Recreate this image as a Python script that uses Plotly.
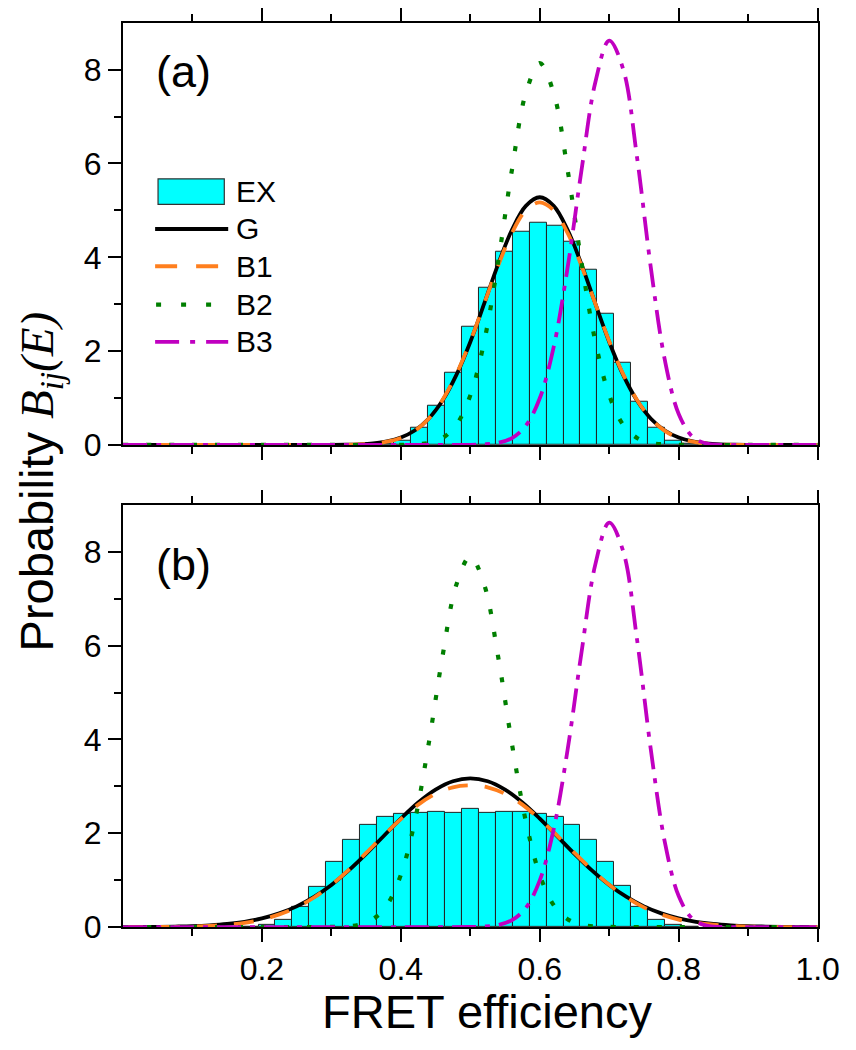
import plotly.graph_objects as go

# ---------------- data ----------------
# histogram bin centres (41 bins on [0,1]) and heights
ex_a_x = [0.37805, 0.40244, 0.42683, 0.45122, 0.47561, 0.50000, 0.52439, 0.54878,
          0.57317, 0.59756, 0.62195, 0.64634, 0.67073, 0.69512, 0.71951, 0.74390,
          0.76829, 0.79268, 0.81707]
ex_a_y = [0.02, 0.10, 0.37, 0.84, 1.54, 2.53, 3.35, 4.11, 4.55, 4.73, 4.67, 4.33,
          3.74, 2.79, 1.76, 0.93, 0.37, 0.10, 0.03]

ex_b_x = [0.18293, 0.20732, 0.23171, 0.25610, 0.28049, 0.30488, 0.32927, 0.35366,
          0.37805, 0.40244, 0.42683, 0.45122, 0.47561, 0.50000, 0.52439, 0.54878,
          0.57317, 0.59756, 0.62195, 0.64634, 0.67073, 0.69512, 0.71951, 0.74390,
          0.76829, 0.79268, 0.81707]
ex_b_y = [0.01, 0.05, 0.15, 0.43, 0.86, 1.38, 1.85, 2.17, 2.34, 2.41, 2.44, 2.46,
          2.43, 2.51, 2.43, 2.45, 2.45, 2.41, 2.35, 2.17, 1.85, 1.38, 0.87, 0.44,
          0.15, 0.04, 0.01]

# panel (a) curves
ga_x = [0.0, 0.1, 0.2, 0.30, 0.32, 0.34, 0.36, 0.38, 0.40, 0.42, 0.44, 0.46, 0.48,
        0.50, 0.52, 0.54, 0.56, 0.58, 0.60, 0.62, 0.64, 0.66, 0.68, 0.70, 0.72,
        0.74, 0.76, 0.78, 0.80, 0.82, 0.84, 0.86, 0.88, 0.90, 1.0]
ga_G = [0, 0, 0, 0.002, 0.005, 0.014, 0.034, 0.076, 0.158, 0.308, 0.559, 0.946,
        1.493, 2.196, 3.012, 3.850, 4.588, 5.098, 5.28, 5.098, 4.588, 3.850, 3.012,
        2.196, 1.493, 0.946, 0.559, 0.308, 0.158, 0.076, 0.034, 0.014, 0.005, 0.002, 0]
ga_B1 = [0, 0, 0, 0.001, 0.004, 0.012, 0.03, 0.07, 0.15, 0.30, 0.56, 0.96, 1.51,
         2.21, 3.01, 3.82, 4.52, 5.00, 5.17, 5.00, 4.52, 3.82, 3.01, 2.21, 1.51,
         0.96, 0.56, 0.30, 0.15, 0.07, 0.03, 0.012, 0.004, 0.001, 0]
b2a_x = [0.0, 0.1, 0.2, 0.3, 0.40, 0.42, 0.44, 0.46, 0.48, 0.50, 0.52, 0.54, 0.56,
         0.58, 0.60, 0.62, 0.64, 0.66, 0.68, 0.70, 0.72, 0.74, 0.76, 0.78, 0.80,
         0.9, 1.0]
b2a_y = [0, 0, 0, 0, 0.002, 0.011, 0.044, 0.149, 0.431, 1.057, 2.205, 3.90, 5.87,
         7.50, 8.14, 7.50, 5.87, 3.90, 2.205, 1.057, 0.431, 0.149, 0.044, 0.011,
         0.002, 0, 0]
b3_x = [0.0, 0.1, 0.2, 0.3, 0.4, 0.50, 0.52, 0.54, 0.56, 0.58, 0.60, 0.62, 0.64,
        0.66, 0.68, 0.70, 0.72, 0.74, 0.76, 0.78, 0.80, 0.82, 0.84, 0.86, 0.9, 1.0]
b3a_y = [0, 0, 0, 0, 0, 0.003, 0.012, 0.045, 0.147, 0.411, 0.995, 2.086, 3.774,
         5.849, 7.731, 8.62, 8.015, 6.130, 3.767, 1.813, 0.661, 0.173, 0.031, 0.003,
         0, 0]

# panel (b) curves
gb_x = [0.0, 0.025, 0.05, 0.075, 0.1, 0.125, 0.15, 0.175, 0.2, 0.225, 0.25, 0.275,
        0.3, 0.325, 0.35, 0.375, 0.4, 0.425, 0.45, 0.475, 0.5, 0.525, 0.55, 0.575,
        0.6, 0.625, 0.65, 0.675, 0.7, 0.725, 0.75, 0.775, 0.8, 0.825, 0.85, 0.875,
        0.9, 0.925, 0.95, 0.975, 1.0]
gb_G = [0.001, 0.003, 0.005, 0.011, 0.020, 0.038, 0.067, 0.113, 0.185, 0.292, 0.441,
        0.642, 0.897, 1.207, 1.559, 1.937, 2.312, 2.655, 2.930, 3.108, 3.17, 3.108,
        2.930, 2.655, 2.312, 1.937, 1.559, 1.207, 0.897, 0.642, 0.441, 0.292, 0.185,
        0.113, 0.067, 0.038, 0.020, 0.011, 0.005, 0.003, 0.001]
gb_B1 = [0, 0, 0.001, 0.004, 0.011, 0.025, 0.05, 0.09, 0.16, 0.27, 0.42, 0.63, 0.90,
         1.22, 1.58, 1.95, 2.30, 2.61, 2.84, 2.98, 3.02, 2.98, 2.84, 2.61, 2.30, 1.95,
         1.58, 1.22, 0.90, 0.63, 0.42, 0.27, 0.16, 0.09, 0.05, 0.025, 0.011, 0.004,
         0.001, 0, 0]
b2b_x = [0.0, 0.1, 0.2, 0.30, 0.32, 0.34, 0.36, 0.38, 0.40, 0.42, 0.44, 0.46, 0.48,
         0.50, 0.52, 0.54, 0.56, 0.58, 0.60, 0.62, 0.64, 0.66, 0.68, 0.70, 0.8, 0.9, 1.0]
b2b_y = [0, 0, 0, 0.003, 0.014, 0.052, 0.169, 0.469, 1.112, 2.252, 3.90, 5.77, 7.30,
         7.9, 7.30, 5.77, 3.90, 2.252, 1.112, 0.469, 0.169, 0.052, 0.014, 0.003, 0, 0, 0]
b3b_y = [0, 0, 0, 0, 0, 0.003, 0.012, 0.045, 0.147, 0.411, 0.995, 2.086, 3.774,
         5.849, 7.731, 8.62, 8.015, 6.130, 3.767, 1.813, 0.661, 0.173, 0.031, 0.003,
         0, 0]

x_ticks = [0.2, 0.4, 0.6, 0.8, 1.0]
x_ticktext = ["0.2", "0.4", "0.6", "0.8", "1.0"]
x_minor = [0.1, 0.3, 0.5, 0.7, 0.9]
y_ticks = [0, 2, 4, 6, 8]
y_minor = [1, 3, 5, 7]

# ---------------- styles ----------------
W, H = 856, 1050
SANS = "Liberation Sans, Arial, sans-serif"
CYAN = "#00FFFF"
ORANGE = "#FF7F1E"
GREEN = "#007F00"
MAGENTA = "#C000C0"
LW = 3.8
DASH_B1 = "20px,17px"
DASH_B2 = "5px,18px"
DASH_B3 = "24px,9px,5px,9px"
TICKFONT = dict(family=SANS, size=32, color="black")


def px_x(p):
    return p / W


def px_y(p):
    return 1 - p / H


fig = go.Figure()

for ex_x, ex_y, g_x, g_y, b1_y, b2_x, b2_y, b3_y, ax in [
    (ex_a_x, ex_a_y, ga_x, ga_G, ga_B1, b2a_x, b2a_y, b3a_y, ("x", "y")),
    (ex_b_x, ex_b_y, gb_x, gb_G, gb_B1, b2b_x, b2b_y, b3b_y, ("x2", "y2")),
]:
    fig.add_trace(go.Bar(x=ex_x, y=ex_y, width=1 / 41, xaxis=ax[0], yaxis=ax[1],
                         marker=dict(color=CYAN, line=dict(color="#222222", width=1)),
                         showlegend=False))
    fig.add_trace(go.Scatter(x=g_x, y=g_y, mode="lines", xaxis=ax[0], yaxis=ax[1],
                             line=dict(color="black", width=LW, shape="spline"),
                             showlegend=False))
    fig.add_trace(go.Scatter(x=g_x, y=b1_y, mode="lines", xaxis=ax[0], yaxis=ax[1],
                             line=dict(color=ORANGE, width=LW, dash=DASH_B1, shape="spline"),
                             showlegend=False))
    fig.add_trace(go.Scatter(x=b2_x, y=b2_y, mode="lines", xaxis=ax[0], yaxis=ax[1],
                             line=dict(color=GREEN, width=LW + 0.4, dash=DASH_B2, shape="spline"),
                             showlegend=False))
    fig.add_trace(go.Scatter(x=b3_x, y=b3_y, mode="lines", xaxis=ax[0], yaxis=ax[1],
                             line=dict(color=MAGENTA, width=LW, dash=DASH_B3, shape="spline"),
                             showlegend=False))

xdom = [px_x(118), px_x(831)]
common_x = dict(range=[0, 1], domain=xdom, showline=True, linecolor="black", linewidth=2,
                mirror="ticks", ticks="outside", ticklen=13, tickwidth=2, tickcolor="black",
                tickvals=x_ticks, ticktext=x_ticktext, showgrid=False, zeroline=False,
                minor=dict(tickvals=x_minor, ticklen=7, tickwidth=2, tickcolor="black",
                           ticks="outside", showgrid=False),
                tickfont=TICKFONT)
common_y = dict(range=[0, 9], showline=True, linecolor="black", linewidth=2, mirror=True,
                ticks="outside", ticklen=13, tickwidth=2, tickcolor="black",
                tickvals=y_ticks, showgrid=False, zeroline=False,
                minor=dict(tickvals=y_minor, ticklen=7, tickwidth=2, tickcolor="black",
                           ticks="outside", showgrid=False),
                tickfont=TICKFONT)

fig.update_layout(
    width=W, height=H, margin=dict(l=0, r=0, t=0, b=0),
    paper_bgcolor="white", plot_bgcolor="white", bargap=0,
    showlegend=False,
    xaxis=dict(common_x, anchor="y", showticklabels=False),
    yaxis=dict(common_y, anchor="x", domain=[px_y(444), px_y(14)]),
    xaxis2=dict(common_x, anchor="y2"),
    yaxis2=dict(common_y, anchor="x2", domain=[px_y(935), px_y(505)]),
)

# ---------------- legend (drawn in panel a) ----------------
shapes = [
    dict(type="rect", xref="paper", yref="paper", x0=px_x(154), x1=px_x(222),
         y0=px_y(199), y1=px_y(173), fillcolor=CYAN, line=dict(color="#333333", width=1.2)),
    dict(type="line", xref="paper", yref="paper", x0=px_x(151), x1=px_x(226),
         y0=px_y(224), y1=px_y(224), line=dict(color="black", width=4)),
    dict(type="line", xref="paper", yref="paper", x0=px_x(151), x1=px_x(226),
         y0=px_y(262), y1=px_y(262), line=dict(color=ORANGE, width=LW, dash="22px,19px")),
    dict(type="line", xref="paper", yref="paper", x0=px_x(152), x1=px_x(226),
         y0=px_y(301), y1=px_y(301), line=dict(color=GREEN, width=LW + 0.4, dash="5px,20px")),
    dict(type="line", xref="paper", yref="paper", x0=px_x(151), x1=px_x(226),
         y0=px_y(339), y1=px_y(339), line=dict(color=MAGENTA, width=LW, dash="24px,11px,5px,11px")),
]
legend_names = ["EX", "G", "B1", "B2", "B3"]
legend_y = [186, 224, 262, 301, 339]
annotations = []
for name, yy in zip(legend_names, legend_y):
    annotations.append(dict(text=name, xref="paper", yref="paper", x=px_x(232), y=px_y(yy),
                            xanchor="left", yanchor="middle", showarrow=False,
                            font=dict(family=SANS, size=30, color="black")))

annotations += [
    dict(text="(a)", xref="paper", yref="paper", x=px_x(150), y=px_y(64), xanchor="left",
         yanchor="middle", showarrow=False, font=dict(family=SANS, size=45, color="black")),
    dict(text="(b)", xref="paper", yref="paper", x=px_x(150), y=px_y(566), xanchor="left",
         yanchor="middle", showarrow=False, font=dict(family=SANS, size=45, color="black")),
    dict(text="FRET efficiency", xref="paper", yref="paper", x=px_x(492), y=0,
         xanchor="center", yanchor="bottom", showarrow=False,
         font=dict(family=SANS, size=47, color="black")),
    dict(text='Probability <i><span style="font-family:Liberation Serif,serif">B<sub>ij</sub>(E)</span></i>',
         xref="paper", yref="paper", x=px_x(33), y=px_y(481), textangle=-90,
         xanchor="center", yanchor="middle", showarrow=False,
         font=dict(family=SANS, size=47, color="black")),
]

fig.update_layout(shapes=shapes, annotations=annotations)
fig.write_html("out.html")
